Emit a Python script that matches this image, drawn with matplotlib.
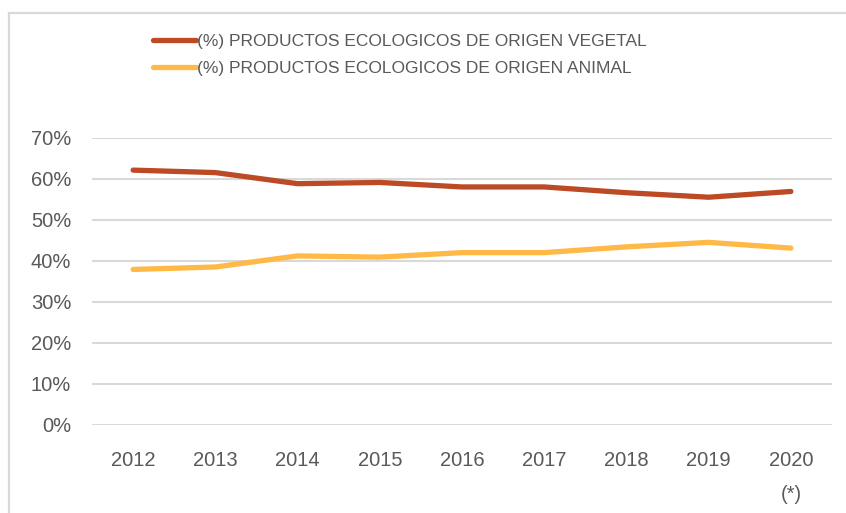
import matplotlib
matplotlib.use("Agg")
import matplotlib.pyplot as plt
from matplotlib.lines import Line2D

# Share of organic products by origin
years = ["2012", "2013", "2014", "2015", "2016", "2017", "2018", "2019", "2020\n(*)"]
vegetal = [62.1, 61.5, 58.8, 59.1, 58.0, 58.0, 56.6, 55.5, 56.9]
animal = [37.9, 38.5, 41.2, 40.9, 42.0, 42.0, 43.4, 44.5, 43.1]
labels = ["(%) PRODUCTOS ECOLOGICOS DE ORIGEN VEGETAL",
          "(%) PRODUCTOS ECOLOGICOS DE ORIGEN ANIMAL"]

plt.rcParams['font.family'] = ['Liberation Sans', 'DejaVu Sans']
text_col = '#595959'

W, H = 846, 513
fig = plt.figure(figsize=(W / 100, H / 100), dpi=100)
ax = fig.add_axes([92 / W, (H - 425) / H, 740 / W, (425 - 137.7) / H])

x = range(len(years))
ax.plot(x, vegetal, color='#BC4A24', lw=3.8, solid_capstyle='round', label=labels[0])
ax.plot(x, animal, color='#FFB946', lw=3.8, solid_capstyle='round', label=labels[1])

ax.set_xlim(-0.5, len(years) - 0.5)
ax.set_ylim(0, 70)
ax.set_yticks(range(0, 71, 10))
ax.set_yticklabels([f"{v}%" for v in range(0, 71, 10)])
ax.set_xticks(list(x))
ax.set_xticklabels(years, linespacing=1.95, va='top')

ax.grid(axis='y', color='#d9d9d9', lw=1.5)
ax.set_axisbelow(True)
for s in ax.spines.values():
    s.set_visible(False)
ax.tick_params(length=0, labelsize=14.5, labelcolor=text_col)
ax.tick_params(axis='y', pad=15)
ax.tick_params(axis='x', pad=19)

fig.legend(loc='upper left', bbox_to_anchor=(153 / W, 1 - 34 / H), frameon=False,
           fontsize=12.5, labelcolor=text_col, handlelength=2.45, handletextpad=0.1,
           labelspacing=0.66, borderpad=0, borderaxespad=0)

# chart frame, left and top edges only
fig.add_artist(Line2D([8.5 / W, 8.5 / W], [0, 1 - 12.5 / H], color='#d9d9d9', lw=1.6,
                      transform=fig.transFigure))
fig.add_artist(Line2D([8.5 / W, 1], [1 - 12.5 / H, 1 - 12.5 / H], color='#d9d9d9', lw=1.6,
                      transform=fig.transFigure))

fig.savefig("out.png", dpi=100)
